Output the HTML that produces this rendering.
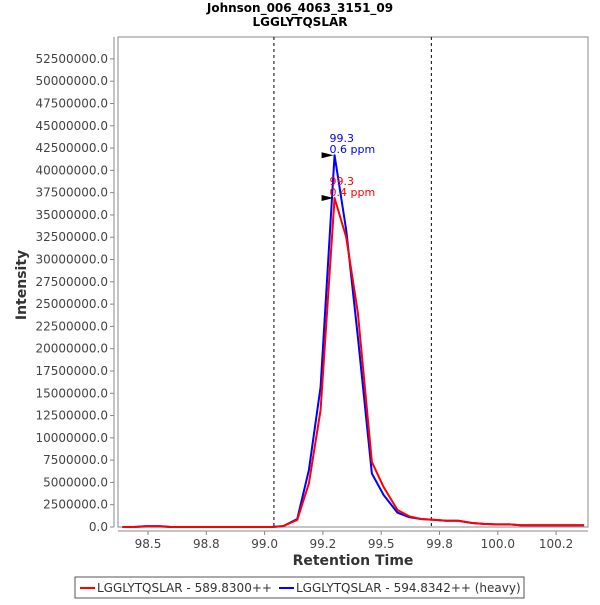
<!DOCTYPE html>
<html><head><meta charset="utf-8"><style>
body{margin:0;background:#fff;font-family:"Liberation Sans","DejaVu Sans",sans-serif}
</style></head><body>
<svg id="chart" width="600" height="600" xmlns="http://www.w3.org/2000/svg" font-family="DejaVu Sans, Liberation Sans, sans-serif">
<text x="300" y="12" text-anchor="middle" font-size="12" font-weight="bold">Johnson_006_4063_3151_09</text>
<text x="300" y="26" text-anchor="middle" font-size="12" font-weight="bold">LGGLYTQSLAR</text>
<rect x="118" y="37" width="470" height="490" fill="#fff" stroke="#888"/>
<g id="yaxis"></g>
<g id="xaxis"></g>
<g id="marks"></g>
<text transform="translate(26,285) rotate(-90)" text-anchor="middle" font-size="14" font-weight="bold" fill="#333">Intensity</text>
<text x="353" y="565" text-anchor="middle" font-size="14" font-weight="bold" fill="#333">Retention Time</text>
<g>
<rect x="75" y="577" width="449" height="21" fill="#fff" stroke="#555"/>
<line x1="80" y1="588" x2="95" y2="588" stroke="#f00" stroke-width="2"/>
<text x="97" y="592" font-size="12" fill="#333">LGGLYTQSLAR - 589.8300++</text>
<line x1="279" y1="588" x2="294" y2="588" stroke="#00f" stroke-width="2"/>
<text x="296" y="592" font-size="12" fill="#333">LGGLYTQSLAR - 594.8342++ (heavy)</text>
</g>
</svg>
<script>
const times=[98.39,98.44,98.49,98.55,98.60,98.66,98.71,98.76,98.82,98.87,98.92,98.98,99.03,99.08,99.14,99.19,99.24,99.30,99.35,99.40,99.46,99.51,99.57,99.62,99.67,99.73,99.78,99.83,99.89,99.94,99.99,100.05,100.10,100.16,100.21,100.26,100.32,100.37];
const lightValues=[0,0,50000,50000,0,0,0,0,0,0,0,0,0,100000,800000,4900000,13100000,36900000,32500000,24000000,7300000,4500000,1900000,1200000,900000,800000,700000,700000,450000,350000,300000,300000,200000,200000,200000,200000,200000,200000];
const heavyValues=[0,0,100000,100000,0,0,0,0,0,0,0,0,0,100000,900000,6400000,15700000,41700000,33300000,21300000,6000000,3600000,1600000,1100000,900000,800000,700000,700000,450000,350000,300000,300000,200000,200000,200000,200000,200000,200000];
const yTicks=[0,2500000,5000000,7500000,10000000,12500000,15000000,17500000,20000000,22500000,25000000,27500000,30000000,32500000,35000000,37500000,40000000,42500000,45000000,47500000,50000000,52500000];
const xTicks=[98.5,98.75,99.0,99.25,99.5,99.75,100.0,100.25];
const xTickLabels=["98.5","98.8","99.0","99.2","99.5","99.8","100.0","100.2"];
const boundaries=[99.04,99.715];
const peakLabels=[{t:99.30,v:41700000,c:"#00f",l1:"99.3",l2:"0.6 ppm"},{t:99.30,v:36900000,c:"#f00",l1:"99.3",l2:"0.4 ppm"}];
const NS="http://www.w3.org/2000/svg";
const xs=t=>148+(t-98.5)*233.2;
const ys=v=>527-v/2500000*22.29;
function mk(tag,attrs,parent,text){const e=document.createElementNS(NS,tag);for(const k in attrs)e.setAttribute(k,attrs[k]);if(text!=null)e.textContent=text;parent.appendChild(e);return e;}
const ya=document.getElementById('yaxis'),xa=document.getElementById('xaxis'),mg=document.getElementById('marks');
mk('line',{x1:114,y1:37,x2:114,y2:527,stroke:'#888'},ya);
yTicks.forEach(v=>{const y=ys(v);mk('line',{x1:110,y1:y,x2:114,y2:y,stroke:'#888'},ya);
const t=mk('text',{x:108,y:y+4,'text-anchor':'end','font-size':12,fill:'#444'},ya,v.toFixed(1));

});
mk('line',{x1:118,y1:531,x2:588,y2:531,stroke:'#888'},xa);
xTicks.forEach((v,i)=>{const x=xs(v);mk('line',{x1:x,y1:531,x2:x,y2:535,stroke:'#888'},xa);
const t=mk('text',{x:x,y:548,'text-anchor':'middle','font-size':12,fill:'#444'},xa,xTickLabels[i]);

});
boundaries.forEach(b=>{const l=mk('line',{x1:xs(b),y1:37,x2:xs(b),y2:527,stroke:'#000','stroke-dasharray':'3,3'},mg);

});
function series(vals,color,name){const p=mk('polyline',{points:times.map((t,i)=>xs(t)+','+ys(vals[i])).join(' '),fill:'none',stroke:color,'stroke-width':2,'stroke-linejoin':'round'},mg);

}
series(heavyValues,'#00f','heavy-series-line');
series(lightValues,'#f00','light-series-line');
peakLabels.forEach(p=>{const x=xs(p.t)-1,y=ys(p.v);
const a=mk('polygon',{points:(x-12)+','+(y-3)+' '+x+','+y+' '+(x-12)+','+(y+3),fill:'#000'},mg);


const t1=mk('text',{x:x-4,y:y-13,'font-size':11,fill:p.c},mg,p.l1);


const t2=mk('text',{x:x-4,y:y-2,'font-size':11,fill:p.c},mg,p.l2);

});
</script>
</body></html>
